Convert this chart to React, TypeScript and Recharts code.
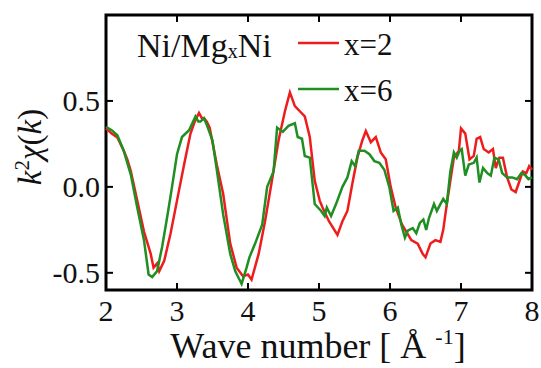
import React from 'react'
import { LineChart, Line, XAxis, YAxis, ReferenceArea, Customized } from 'recharts'

// k values [1/Å] and k^2 chi(k)
const kX2 = [2.0, 2.08, 2.16, 2.25, 2.3, 2.35, 2.44, 2.535, 2.63, 2.67, 2.72, 2.75, 2.82, 2.91, 3.0, 3.1, 3.19, 3.25, 3.31, 3.35, 3.38, 3.42, 3.46, 3.56, 3.65, 3.75, 3.84, 3.93, 4.0, 4.05, 4.15, 4.24, 4.33, 4.43, 4.52, 4.59, 4.66, 4.73, 4.8, 4.87, 4.94, 5.01, 5.05, 5.14, 5.26, 5.33, 5.4, 5.47, 5.54, 5.61, 5.66, 5.73, 5.8, 5.87, 5.94, 6.01, 6.08, 6.17, 6.3, 6.39, 6.46, 6.5, 6.57, 6.64, 6.71, 6.75, 6.8, 6.85, 6.9, 6.97, 7.0, 7.06, 7.12, 7.18, 7.22, 7.27, 7.32, 7.39, 7.45, 7.49, 7.54, 7.59, 7.65, 7.71, 7.77, 7.82, 7.87, 7.92, 7.96, 8.0]
const chiX2 = [0.34, 0.31, 0.287, 0.21, 0.16, 0.09, -0.08, -0.26, -0.39, -0.47, -0.445, -0.49, -0.43, -0.27, -0.08, 0.13, 0.31, 0.38, 0.43, 0.4, 0.4, 0.38, 0.345, 0.13, -0.04, -0.33, -0.47, -0.52, -0.51, -0.54, -0.39, -0.2, 0.02, 0.27, 0.44, 0.55, 0.47, 0.44, 0.41, 0.29, 0.035, -0.08, -0.12, -0.2, -0.28, -0.2, -0.14, 0.02, 0.17, 0.27, 0.325, 0.26, 0.29, 0.2, 0.16, 0.0, -0.12, -0.22, -0.31, -0.33, -0.39, -0.41, -0.33, -0.31, -0.32, -0.25, -0.1, 0.035, 0.17, 0.21, 0.34, 0.31, 0.16, 0.18, 0.28, 0.29, 0.22, 0.2, 0.22, 0.11, 0.17, 0.17, 0.055, -0.015, -0.03, 0.03, 0.09, 0.08, 0.12, 0.1]

const kX6 = [2.0, 2.08, 2.16, 2.25, 2.35, 2.44, 2.535, 2.6, 2.65, 2.72, 2.79, 2.86, 2.93, 3.0, 3.07, 3.17, 3.26, 3.3, 3.33, 3.38, 3.43, 3.5, 3.56, 3.65, 3.75, 3.82, 3.91, 3.98, 4.02, 4.1, 4.2, 4.27, 4.36, 4.41, 4.49, 4.57, 4.66, 4.7, 4.76, 4.8, 4.87, 4.94, 5.03, 5.08, 5.11, 5.17, 5.24, 5.33, 5.4, 5.46, 5.51, 5.56, 5.64, 5.71, 5.78, 5.85, 5.92, 5.99, 6.05, 6.11, 6.16, 6.21, 6.25, 6.32, 6.37, 6.42, 6.47, 6.51, 6.55, 6.62, 6.66, 6.71, 6.75, 6.8, 6.85, 6.9, 6.94, 6.98, 7.01, 7.06, 7.11, 7.18, 7.22, 7.26, 7.31, 7.37, 7.42, 7.47, 7.53, 7.58, 7.65, 7.72, 7.79, 7.85, 7.9, 7.95, 8.0]
const chiX6 = [0.35, 0.33, 0.3, 0.21, 0.07, -0.12, -0.31, -0.51, -0.525, -0.49, -0.35, -0.18, 0.0, 0.19, 0.29, 0.33, 0.41, 0.38, 0.38, 0.4, 0.35, 0.27, 0.1, -0.16, -0.39, -0.49, -0.565, -0.47, -0.41, -0.33, -0.22, 0.0, 0.09, 0.345, 0.32, 0.355, 0.37, 0.29, 0.28, 0.18, 0.17, -0.1, -0.14, -0.17, -0.12, -0.17, -0.1, 0.0, 0.055, 0.15, 0.12, 0.21, 0.21, 0.19, 0.15, 0.14, 0.1, 0.0, -0.14, -0.12, -0.22, -0.295, -0.255, -0.24, -0.27, -0.21, -0.19, -0.25, -0.18, -0.1, -0.14, -0.1, -0.07, -0.1, 0.09, 0.2, 0.17, 0.21, 0.22, 0.065, 0.13, 0.14, 0.17, 0.025, 0.11, 0.08, 0.065, 0.17, 0.16, 0.08, 0.055, 0.055, 0.045, 0.08, 0.07, 0.045, 0.055]

const xTicks = [2, 3, 4, 5, 6, 7, 8]
const yTicks = [-0.5, 0, 0.5]
const seriesNames = ['x=2', 'x=6']

const RED = '#ee1d1d'
const GREEN = '#1f8f22'
const FONT = '"Liberation Serif", serif'
const txt = { fontFamily: FONT }

const W = 541
const H = 368
const TOP = 15
const BOTTOM = 290
const LEFT = 106
const RIGHT = 532
const TICK = 7

const redData = kX2.map((k, i) => ({ k, v: chiX2[i] }))
const greenData = kX6.map((k, i) => ({ k, v: chiX6[i] }))

const XTick = (props: any) => {
  const { x, payload } = props
  return (
    <g>
      <line x1={x} x2={x} y1={BOTTOM} y2={BOTTOM - TICK} stroke="#000" strokeWidth={2} />
      <line x1={x} x2={x} y1={TOP} y2={TOP + TICK} stroke="#000" strokeWidth={2} />
      <text x={x} y={321} textAnchor="middle" fontSize={30} style={txt} fill="#111">
        {payload.value}
      </text>
    </g>
  )
}

const YTick = (props: any) => {
  const { y, payload } = props
  return (
    <g>
      <line x1={LEFT} x2={LEFT + TICK} y1={y} y2={y} stroke="#000" strokeWidth={2} />
      <line x1={RIGHT} x2={RIGHT - TICK} y1={y} y2={y} stroke="#000" strokeWidth={2} />
      <text x={100} y={y + 10} textAnchor="end" fontSize={30} style={txt} fill="#111">
        {Number(payload.value).toFixed(1)}
      </text>
    </g>
  )
}

const Decorations = () => (
  <g fill="#111" style={txt}>
    {/* legend */}
    <text x={137} y={57} fontSize={34} style={txt}>
      Ni/Mg<tspan fontSize={20} dy={1}>x</tspan>
      <tspan dy={-1}>Ni</tspan>
    </text>
    <line x1={298} x2={339} y1={43} y2={43} stroke={RED} strokeWidth={2.5} />
    <text x={344} y={55} fontSize={31} style={txt}>{seriesNames[0]}</text>
    <line x1={298} x2={339} y1={89} y2={89} stroke={GREEN} strokeWidth={2.5} />
    <text x={344} y={101} fontSize={31} style={txt}>{seriesNames[1]}</text>

    {/* axis titles */}
    <text x={318} y={358} textAnchor="middle" fontSize={36} style={txt}>
      Wave number [ Å <tspan fontSize={22} dy={-14}>-1</tspan>
      <tspan dy={14}>]</tspan>
    </text>
    <text x={41} y={147} textAnchor="middle" fontSize={33} style={txt} transform="rotate(-90 41 147)">
      <tspan fontStyle="italic">k</tspan>
      <tspan fontSize={21} dy={-12}>2</tspan>
      <tspan dy={12} fontStyle="italic">χ</tspan>
      <tspan>(</tspan>
      <tspan fontStyle="italic">k</tspan>
      <tspan>)</tspan>
    </text>
  </g>
)

export default function App() {
  return (
    <div style={{ position: 'fixed', left: 0, top: 0, width: W, height: H, background: '#fff', fontFamily: FONT }}>
      <LineChart width={W} height={H} margin={{ top: TOP, right: W - RIGHT, bottom: 0, left: 0 }}>
        <XAxis
          dataKey="k"
          type="number"
          domain={[2, 8]}
          ticks={xTicks}
          height={H - BOTTOM}
          axisLine={false}
          tickLine={false}
          tickSize={0}
          tickMargin={0}
          tick={<XTick />}
          interval={0}
        />
        <YAxis
          type="number"
          domain={[-0.6, 1.0]}
          ticks={yTicks}
          width={LEFT}
          axisLine={false}
          tickLine={false}
          tickSize={0}
          tickMargin={0}
          tick={<YTick />}
          interval={0}
        />
        <Line
          data={redData}
          dataKey="v"
          type="linear"
          stroke={RED}
          strokeWidth={2.5}
          dot={false}
          isAnimationActive={false}
        />
        <Line
          data={greenData}
          dataKey="v"
          type="linear"
          stroke={GREEN}
          strokeWidth={2.5}
          dot={false}
          isAnimationActive={false}
        />
        <ReferenceArea x1={2} x2={8} y1={-0.6} y2={1.0} fill="none" stroke="#000" strokeWidth={3} />
        <Customized component={Decorations} />
      </LineChart>
    </div>
  )
}
